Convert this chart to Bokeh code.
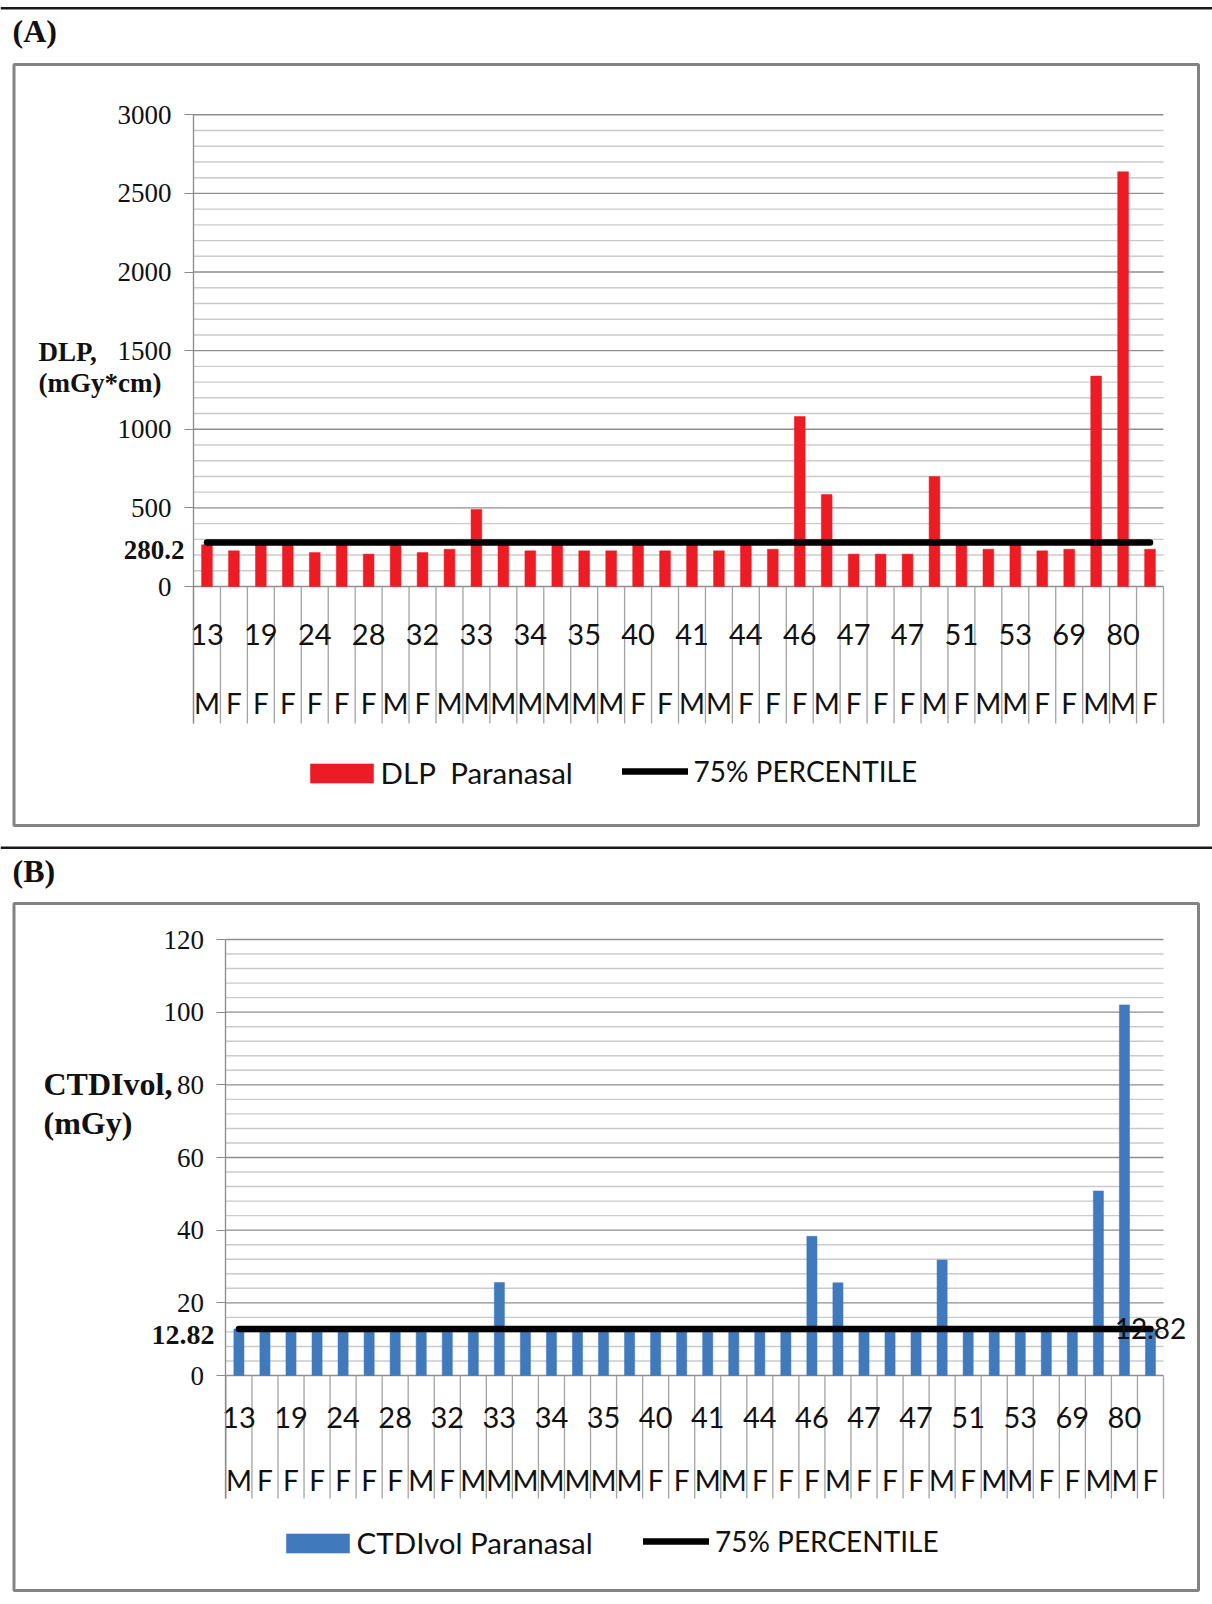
from bokeh.plotting import figure
from bokeh.models import Range1d, FixedTicker, BoxAnnotation, Label, Legend, LegendItem
from bokeh.layouts import column
from bokeh.embed import file_html
from bokeh.resources import INLINE
from bokeh.core.properties import value

# ---------------- data ----------------
sex = ["M", "F", "F", "F", "F", "F", "F", "M", "F", "M", "M", "M", "M", "M", "M", "M",
       "F", "F", "M", "M", "F", "F", "F", "M", "F", "F", "F", "M", "F", "M", "M", "F",
       "F", "M", "M", "F"]
age_labels = ["13", "19", "24", "28", "32", "33", "34", "35", "40", "41", "44", "46",
              "47", "47", "51", "53", "69", "80"]

dlp = [265, 227, 280, 280, 216, 280, 206, 280, 216, 237, 490, 280, 227, 280, 227, 227,
       280, 227, 280, 227, 280, 237, 1081, 585, 206, 206, 206, 699, 280, 237, 280, 227,
       237, 1338, 2638, 237]
dlp_p75 = 280.2
dlp_ticks = [0, 500, 1000, 1500, 2000, 2500, 3000]

ctdi = [12.82, 12.82, 12.82, 12.82, 12.82, 12.82, 12.82, 12.82, 12.82, 12.82, 25.6, 12.82,
        12.82, 12.82, 12.82, 12.82, 12.82, 12.82, 12.82, 12.82, 12.82, 12.82, 38.3, 25.5,
        12.82, 12.82, 12.82, 31.8, 12.82, 12.82, 12.82, 12.82, 12.82, 50.8, 102.0, 12.82]
ctdi_p75 = 12.82
ctdi_ticks = [0, 20, 40, 60, 80, 100, 120]

W = 1212
PLOT_RIGHT = 1163
SERIF = "Liberation Serif"
SANS = "Lato"
INK = "#111111"


def build(tag, vals, p75, ticks, minor_step, color, bar_w, series_label, ytitle, ytitle_size,
          p75_label_size, show_end_label, g):
    n = len(vals)
    top, bot = g["fig_top"], g["fig_bottom"]
    fl, fr = g["plot_left"], PLOT_RIGHT
    ft, y0 = g["ytop"], g["y0"]
    ymax = ticks[-1]
    k = (y0 - ft) / ymax

    def px2x(px):
        return (px - fl) / (fr - fl) * n

    def px2y(py):
        return (y0 - py) / k

    p = figure(width=W, height=bot - top, output_backend="svg", toolbar_location=None,
               x_range=Range1d(px2x(0), px2x(W)), y_range=Range1d(px2y(bot), px2y(top)),
               x_axis_location=None, min_border=0)
    p.outline_line_color = None
    p.background_fill_color = "white"
    p.border_fill_color = "white"
    p.xgrid.grid_line_color = None
    p.ygrid.grid_line_color = None

    minor = [v for v in range(0, ymax + 1, minor_step) if v not in ticks]
    sep_y = px2y(g["sep_bottom"])

    # grid lines (minor, then major) across the category span
    p.segment(x0=[0] * len(minor), y0=minor, x1=[n] * len(minor), y1=minor,
              line_color="#cacaca", line_width=1.4)
    p.segment(x0=[0] * len(ticks), y0=ticks, x1=[n] * len(ticks), y1=ticks,
              line_color="#8e8e8e", line_width=1.4)

    ax = p.yaxis[0]
    ax.fixed_location = 0
    ax.ticker = FixedTicker(ticks=ticks, minor_ticks=[])
    ax.bounds = (sep_y, ymax)
    ax.axis_line_color = "#8a8a8a"
    ax.axis_line_width = 1.3
    ax.major_tick_line_color = "#8a8a8a"
    ax.major_tick_out = 9
    ax.major_tick_in = 0
    ax.minor_tick_out = 0
    ax.minor_tick_in = 0
    ax.major_label_standoff = 13
    ax.major_label_text_font = SERIF
    ax.major_label_text_font_size = "27px"
    ax.major_label_text_color = INK

    centers = [i + 0.5 for i in range(n)]
    bounds = list(range(n + 1))

    p.segment(x0=bounds, y0=[0] * len(bounds), x1=bounds, y1=[sep_y] * len(bounds),
              line_color="#a3a3a3", line_width=1.3)

    bars = p.vbar(x=centers, top=vals, bottom=0, width=bar_w,
                  fill_color=color, line_color=color, line_width=0.5)
    line = p.line(x=centers, y=[p75] * n, line_color="black", line_width=6.5,
                  line_cap="round")

    age_x = [centers[i] for i in range(0, n, 2)]
    p.text(x=age_x, y=[px2y(g["age_y"])] * len(age_x), text=age_labels,
           text_font=value(SANS), text_font_size="29px", text_align="center",
           text_baseline="middle", text_color=INK)
    p.text(x=centers, y=[px2y(g["sex_y"])] * n, text=sex,
           text_font=value(SANS), text_font_size="28px", text_align="center",
           text_baseline="middle", text_color=INK)

    if show_end_label:
        p.text(x=[centers[-1]], y=[p75], text=[f"{p75}"], text_font=value(SANS),
               text_font_size="28px", text_align="center", text_baseline="middle",
               text_color=INK)

    # legends: box item and line item placed separately
    leg1 = Legend(items=[LegendItem(label=series_label, renderers=[bars])],
                  location=(g["leg1_left"], bot - g["leg1_bottom"]),
                  glyph_width=79, glyph_height=24, label_standoff=0,
                  padding=0, margin=0, border_line_color=None, background_fill_alpha=0,
                  label_text_font=SANS, label_text_font_size="29.5px",
                  label_text_color=INK)
    leg2 = Legend(items=[LegendItem(label="75% PERCENTILE", renderers=[line])],
                  location=(g["leg2_left"], bot - g["leg2_bottom"]),
                  glyph_width=66, glyph_height=32, label_standoff=6,
                  padding=0, margin=0, border_line_color=None, background_fill_alpha=0,
                  label_text_font=SANS, label_text_font_size="28px",
                  label_text_color=INK)
    p.add_layout(leg1)
    p.add_layout(leg2)

    # top rule and panel frame
    p.add_layout(BoxAnnotation(left=px2x(0), right=px2x(W), top=px2y(g["rule_y"]),
                               bottom=px2y(g["rule_y"] + 2.6), fill_color="#1a1a1a",
                               fill_alpha=1, line_color=None, line_alpha=0))
    p.add_layout(BoxAnnotation(left=px2x(13.5), right=px2x(1198), top=px2y(g["box_top"]),
                               bottom=px2y(g["box_bottom"]), fill_alpha=0,
                               line_color="#838383", line_alpha=1, line_width=3))

    p.add_layout(Label(x=px2x(12), y=px2y(g["tag_y"]), text=tag, text_font=SERIF,
                       text_font_style="bold", text_font_size="32px",
                       text_baseline="middle", text_align="left", text_color=INK))
    for txt, yy in zip(ytitle, g["ytitle_y"]):
        p.add_layout(Label(x=px2x(g["ytitle_x"]), y=px2y(yy), text=txt, text_font=SERIF,
                           text_font_style="bold", text_font_size=ytitle_size,
                           text_baseline="middle", text_align="left", text_color=INK))
    p.add_layout(Label(x=px2x(g["p75_right"]), y=px2y(g["p75_y"]), text=f"{p75}",
                       text_font=SERIF, text_font_style="bold",
                       text_font_size=p75_label_size, text_baseline="middle",
                       text_align="right", text_color=INK))
    return p


geom_a = dict(fig_top=0, fig_bottom=840, plot_left=193, ytop=114.3, y0=586,
              sep_bottom=723, age_y=634, sex_y=702,
              leg1_left=301.6, leg1_bottom=790.4, leg2_left=621.5, leg2_bottom=788.4,
              rule_y=6.5, box_top=64, box_bottom=825, tag_y=30, ytitle_x=38,
              ytitle_y=[351, 382], p75_right=184, p75_y=549)
geom_b = dict(fig_top=840, fig_bottom=1600, plot_left=225.4, ytop=939, y0=1375,
              sep_bottom=1498, age_y=1417, sex_y=1479,
              leg1_left=277.6, leg1_bottom=1560.4, leg2_left=643, leg2_bottom=1558.2,
              rule_y=846, box_top=903, box_bottom=1590, tag_y=870, ytitle_x=43,
              ytitle_y=[1083, 1122], p75_right=214, p75_y=1334)

pa = build("(A)", dlp, dlp_p75, dlp_ticks, 100, "#ED1C24", 0.4, "DLP  Paranasal",
           ["DLP,", "(mGy*cm)"], "27px", "27px", False, geom_a)
pb = build("(B)", ctdi, ctdi_p75, ctdi_ticks, 4, "#4179BD", 0.39, "CTDIvol Paranasal",
           ["CTDIvol,", "(mGy)"], "32px", "28px", True, geom_b)

layout = column(pa, pb, spacing=0)
open("out.html", "w").write(file_html(layout, INLINE))
